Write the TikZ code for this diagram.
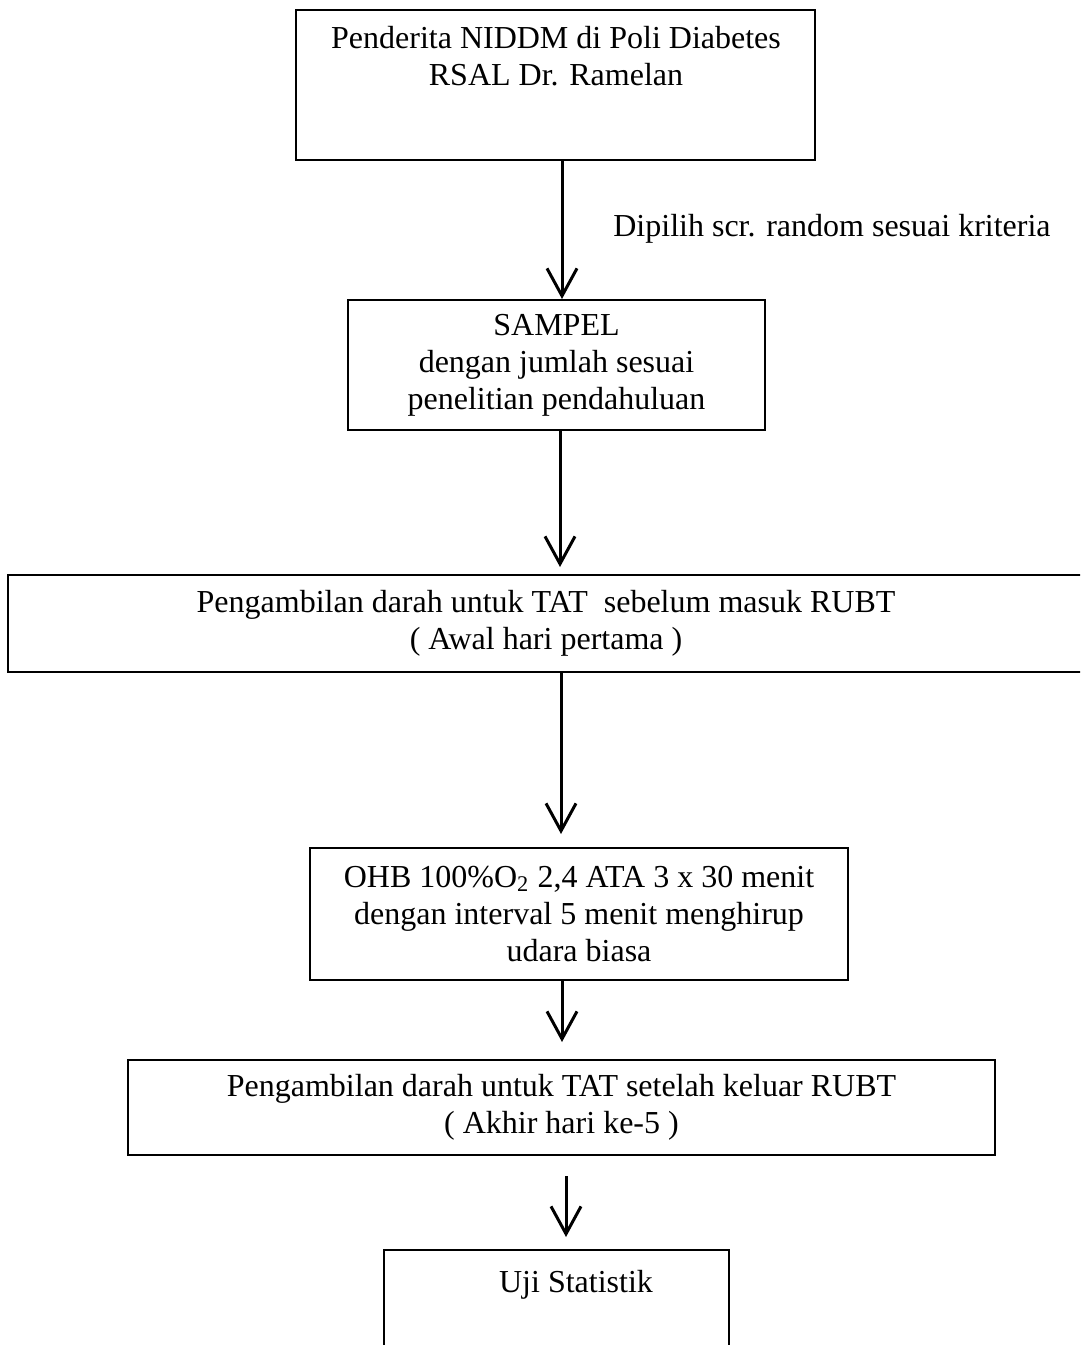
\documentclass[tikz,border=0pt]{standalone}
\usepackage{fontspec}
\setmainfont{Liberation Serif}
\usetikzlibrary{arrows.meta,positioning}

\begin{document}
\begin{tikzpicture}
        [x=0.4pt, y=-0.4pt,
          box/.style={
            rectangle,
            draw,
            line width=0.8pt,
            inner sep=0pt,
            align=center,
            font=\fontsize{12.8}{14.8}\selectfont},
          txt/.style={
            text centered,
            align=center,
            inner sep=0pt,
            font=\fontsize{12.8}{14.8}\selectfont},
          flow/.style={
            -{Straight Barb[length=11pt,width=12pt]},
            line width=1.2pt}]
        \useasboundingbox (0,0) rectangle (1080,1345);
        \clip (0,0) rectangle (1080,1345);

        % boxes
        \node[box, minimum width=207.6pt, minimum height=60pt] (b1) at (555.5,85) {};
        \node[txt, anchor=north] (t1) at (556,26) {Penderita NIDDM di Poli Diabetes\\ RSAL Dr. Ramelan};
        \node[box, minimum width=166.8pt, minimum height=52pt] (b2) at (556.5,365) {SAMPEL\\ dengan jumlah sesuai\\ penelitian pendahuluan};
        \node[box, minimum width=430.4pt, minimum height=38.8pt] (b3) at (546,623.5) {Pengambilan darah untuk TAT~ sebelum masuk RUBT\\ ( Awal hari pertama )};
        \node[box, minimum width=215.2pt, minimum height=52.8pt] (b4) at (579,914) {OHB 100\%O\textsubscript{2} 2,4 ATA 3 x 30 menit\\ dengan interval 5 menit menghirup\\ udara biasa};
        \node[box, minimum width=346.8pt, minimum height=38pt] (b5) at (561.5,1107.5) {Pengambilan darah untuk TAT setelah keluar RUBT\\ ( Akhir hari ke-5 )};
        \node[box, minimum width=138pt, minimum height=46pt] (b6) at (556.5,1307.5) {};
        \node[txt, anchor=north] (t6) at (576,1270) {Uji Statistik};

        \node[txt] (pick) at (832,229) {Dipilih scr. random sesuai kriteria};

        % arrows
        \coordinate (c1) at (562,0);
        \coordinate (c2) at (560,0);
        \coordinate (c3) at (561,0);
        \coordinate (c4) at (562,0);
        \coordinate (c5) at (566,0);
        \draw[flow] (b1.south -| c1) -- (b2.north -| c1);
        \draw[flow, shorten >=2.8pt] (b2.south -| c2) -- (b3.north -| c2);
        \draw[flow, shorten >=5.2pt] (b3.south -| c3) -- (b4.north -| c3);
        \draw[flow, shorten >=6.8pt] (b4.south -| c4) -- (b5.north -| c4);
        \draw[flow, shorten <=8pt, shorten >=4.8pt] (b5.south -| c5) -- (b6.north -| c5);
      \end{tikzpicture}
\end{document}
